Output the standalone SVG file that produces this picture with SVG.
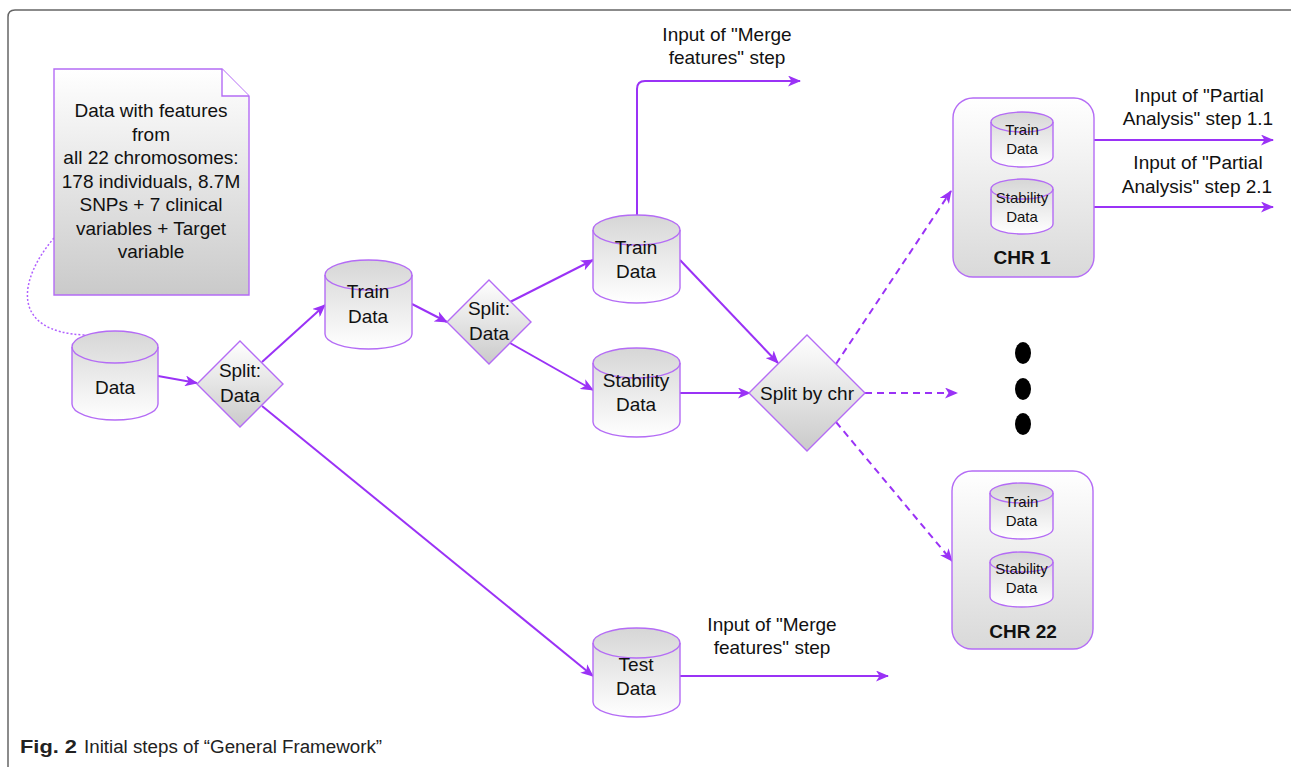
<svg xmlns="http://www.w3.org/2000/svg" width="1291" height="767" viewBox="0 0 1291 767">
<defs>
<linearGradient id="gCyl" x1="0" y1="0" x2="0" y2="1"><stop offset="0" stop-color="#d6d6d6"/><stop offset="1" stop-color="#ffffff"/></linearGradient>
<linearGradient id="gDown" x1="0" y1="0" x2="0" y2="1"><stop offset="0" stop-color="#ffffff"/><stop offset="1" stop-color="#cacaca"/></linearGradient>
<linearGradient id="gBox" x1="0" y1="0" x2="0" y2="1"><stop offset="0" stop-color="#ffffff"/><stop offset="1" stop-color="#d9d9d9"/></linearGradient>
<marker id="arr" markerUnits="userSpaceOnUse" markerWidth="13" markerHeight="11" viewBox="0 0 13 11" refX="12" refY="5.5" orient="auto"><path d="M0,0 L13,5.5 L0,11 L3.5,5.5 Z" fill="#9a32f6"/></marker>
</defs>
<style>
.t{font-family:"Liberation Sans",Arial,sans-serif;font-size:19px;fill:#111;text-anchor:middle}
.ts{font-family:"Liberation Sans",Arial,sans-serif;font-size:15px;fill:#111;text-anchor:middle}
.tb{font-family:"Liberation Sans",Arial,sans-serif;font-size:19px;font-weight:bold;fill:#111;text-anchor:middle}
.cap{font-family:"Liberation Sans",Arial,sans-serif;font-size:18px;fill:#222}
.node{stroke:#b46cf5;stroke-width:1.4}
.cyl{fill:url(#gCyl)}
.arc{fill:none}
.c{fill:none;stroke:#9a32f6;stroke-width:2;marker-end:url(#arr)}
.d{stroke-dasharray:7 5}
</style>
<path d="M8,767 V17 Q8,10 15,10 H1291" fill="none" stroke="#666" stroke-width="1.5"/>

<g id="connectors">
<path class="c" d="M158,376 L197,383"/>
<path class="c" d="M262,362 L325,305"/>
<path class="c" d="M412,304 L447,322"/>
<path class="c" d="M510,302 L593,260"/>
<path class="c" d="M510,343 L593,390"/>
<path class="c" d="M637,215 V89 Q637,81 645,81 H800"/>
<path class="c" d="M680,260 L778,363"/>
<path class="c" d="M680,393 L750,393"/>
<path class="c" d="M262,406 L593,676"/>
<path class="c" d="M680,676 L888,676"/>
<path class="c d" d="M836,364 L951,191"/>
<path class="c d" d="M865,393 L957,393"/>
<path class="c d" d="M836,422 L952,561"/>
<path class="c" d="M1053,140 L1273,140"/>
<path class="c" d="M1053,207 L1273,207"/>
<path d="M54,238 C18,280 10,332 85,335" fill="none" stroke="#b060ff" stroke-width="1.5" stroke-dasharray="2 2"/>
</g>

<g id="note">
<path class="node" d="M54,69 H222 L249,96 V295 H54 Z" fill="url(#gDown)"/>
<path class="node" d="M222,69 V96 H249" fill="#fff"/>
<text class="t" x="151" y="117">Data with features</text>
<text class="t" x="151" y="141">from</text>
<text class="t" x="151" y="164">all 22 chromosomes:</text>
<text class="t" x="151" y="188">178 individuals, 8.7M</text>
<text class="t" x="151" y="211">SNPs + 7 clinical</text>
<text class="t" x="151" y="235">variables + Target</text>
<text class="t" x="151" y="258">variable</text>
</g>

<g id="data">
<path class="node cyl" d="M72,347 A43,16 0 0 1 158,347 V404 A43,16 0 0 1 72,404 Z"/>
<path class="node arc" d="M72,347 A43,16 0 0 0 158,347"/>
<text class="t" x="115" y="394">Data</text>
</g>

<g id="split1">
<path class="node" d="M240,341 L283,384 L240,427 L197,384 Z" fill="url(#gDown)"/>
<text class="t" x="240" y="377">Split:</text>
<text class="t" x="240" y="402">Data</text>
</g>

<g id="train1">
<path class="node cyl" d="M325,275 A43.5,15 0 0 1 412,275 V334 A43.5,15 0 0 1 325,334 Z"/>
<path class="node arc" d="M325,275 A43.5,15 0 0 0 412,275"/>
<text class="t" x="368" y="298">Train</text>
<text class="t" x="368" y="323">Data</text>
</g>

<g id="split2">
<path class="node" d="M489,280 L531,322 L489,364 L447,322 Z" fill="url(#gDown)"/>
<text class="t" x="489" y="315">Split:</text>
<text class="t" x="489" y="340">Data</text>
</g>

<g id="train2">
<path class="node cyl" d="M593,230 A43.5,15 0 0 1 680,230 V288 A43.5,15 0 0 1 593,288 Z"/>
<path class="node arc" d="M593,230 A43.5,15 0 0 0 680,230"/>
<text class="t" x="636" y="254">Train</text>
<text class="t" x="636" y="278">Data</text>
</g>

<g id="stability">
<path class="node cyl" d="M593,363 A43.5,15 0 0 1 680,363 V422 A43.5,15 0 0 1 593,422 Z"/>
<path class="node arc" d="M593,363 A43.5,15 0 0 0 680,363"/>
<text class="t" x="636" y="387">Stability</text>
<text class="t" x="636" y="411">Data</text>
</g>

<g id="test">
<path class="node cyl" d="M593,643 A43.5,15 0 0 1 680,643 V702 A43.5,15 0 0 1 593,702 Z"/>
<path class="node arc" d="M593,643 A43.5,15 0 0 0 680,643"/>
<text class="t" x="636" y="671">Test</text>
<text class="t" x="636" y="695">Data</text>
</g>

<g id="splitchr">
<path class="node" d="M807,335 L865,393 L807,451 L749,393 Z" fill="url(#gDown)"/>
<text class="t" x="807" y="400">Split by chr</text>
</g>

<g id="chr1">
<rect class="node" x="953" y="98" width="141" height="179" rx="20" fill="url(#gBox)"/>
<path class="node cyl" d="M991,122 A31,10 0 0 1 1053,122 V157 A31,10 0 0 1 991,157 Z"/>
<path class="node arc" d="M991,122 A31,10 0 0 0 1053,122"/>
<text class="ts" x="1022" y="135">Train</text>
<text class="ts" x="1022" y="154">Data</text>
<path class="node cyl" d="M991,189 A31,10 0 0 1 1053,189 V224 A31,10 0 0 1 991,224 Z"/>
<path class="node arc" d="M991,189 A31,10 0 0 0 1053,189"/>
<text class="ts" x="1022" y="203">Stability</text>
<text class="ts" x="1022" y="222">Data</text>
<text class="tb" x="1022" y="264">CHR 1</text>
</g>

<g id="chr22">
<rect class="node" x="952" y="471" width="141" height="178" rx="20" fill="url(#gBox)"/>
<path class="node cyl" d="M990,493 A31.5,10 0 0 1 1053,493 V529 A31.5,10 0 0 1 990,529 Z"/>
<path class="node arc" d="M990,493 A31.5,10 0 0 0 1053,493"/>
<text class="ts" x="1021.5" y="507">Train</text>
<text class="ts" x="1021.5" y="526">Data</text>
<path class="node cyl" d="M990,562 A31.5,10 0 0 1 1053,562 V597 A31.5,10 0 0 1 990,597 Z"/>
<path class="node arc" d="M990,562 A31.5,10 0 0 0 1053,562"/>
<text class="ts" x="1021.5" y="574">Stability</text>
<text class="ts" x="1021.5" y="593">Data</text>
<text class="tb" x="1023" y="638">CHR 22</text>
</g>

<g id="dots">
<ellipse cx="1023" cy="353" rx="8" ry="11" fill="#000"/>
<ellipse cx="1023" cy="389" rx="8" ry="11" fill="#000"/>
<ellipse cx="1023" cy="424" rx="8" ry="11" fill="#000"/>
</g>

<g id="labels">
<text class="t" x="727" y="41">Input of "Merge</text>
<text class="t" x="727" y="64">features" step</text>
<text class="t" x="772" y="631">Input of "Merge</text>
<text class="t" x="772" y="654">features" step</text>
<text class="t" x="1199" y="102">Input of "Partial</text>
<text class="t" x="1198" y="125">Analysis" step 1.1</text>
<text class="t" x="1198" y="169">Input of "Partial</text>
<text class="t" x="1197" y="193">Analysis" step 2.1</text>
</g>

<text class="cap" x="20" y="753" font-weight="bold" textLength="57" lengthAdjust="spacingAndGlyphs">Fig. 2</text>
<text class="cap" x="84" y="753" textLength="298" lengthAdjust="spacingAndGlyphs">Initial steps of “General Framework”</text>
</svg>
